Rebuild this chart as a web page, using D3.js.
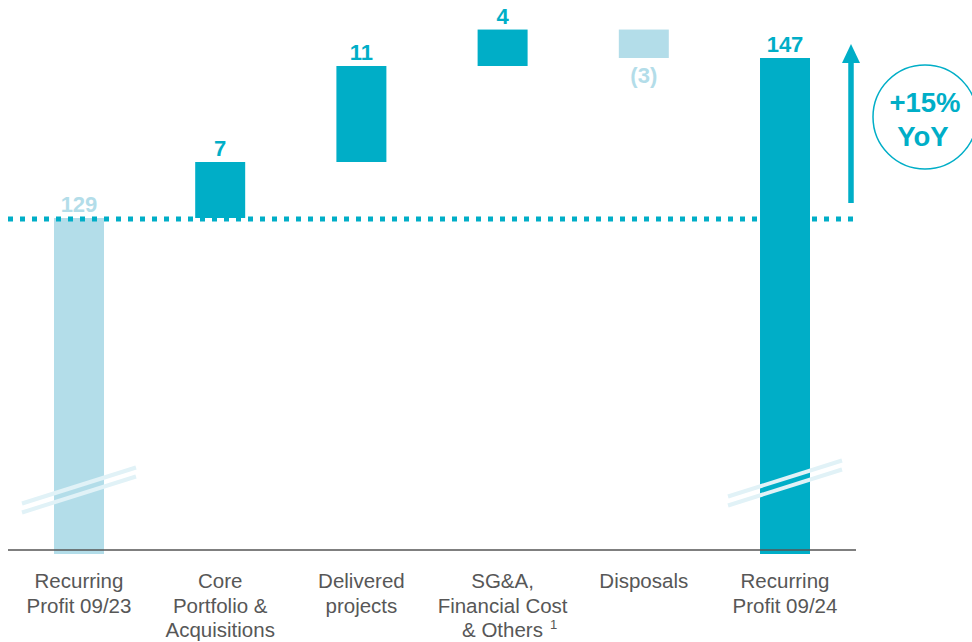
<!DOCTYPE html>
<html lang="en">
<head>
  <meta charset="UTF-8">
  <title>Recurring Profit bridge</title>
  <script src="https://d3js.org/d3.v7.min.js"></script>
  <style>
    body { margin: 0; background: #fff; font-family: "Liberation Sans", Arial, sans-serif; }
    .value-label { font-weight: bold; font-size: 22px; text-anchor: middle; }
    .cat-label { font-size: 20.5px; fill: #575757; text-anchor: middle; }
  </style>
</head>
<body>
  <div id="chart"></div>
  <script>
    // categories (line breaks with "|")
    const categories = [
      "Recurring|Profit 09/23",
      "Core|Portfolio &|Acquisitions",
      "Delivered|projects",
      "SG&A,|Financial Cost|& Others",
      "Disposals",
      "Recurring|Profit 09/24"
    ];
    // step values: first and last are totals, the rest are changes
    const values = [129, 6.3, 10.8, 4.1, -3.2, 147];
    const kinds = ["total", "up", "up", "up", "down", "total"];
    const valueLabels = ["129", "7", "11", "4", "(3)", "147"];
    const yoyText = ["+15%", "YoY"];

    const teal = "#00aec7";
    const light = "#b3dde9";

    const W = 972, H = 642;
    const baseY = 550;

    const svg = d3.select("#chart").append("svg")
      .attr("width", W).attr("height", H);

    // build waterfall steps
    let running = 0;
    const steps = values.map((v, i) => {
      let lo, hi;
      if (kinds[i] === "total") { lo = null; hi = v; running = v; }
      else { const start = running; running += v; lo = Math.min(start, running); hi = Math.max(start, running); }
      return { cat: categories[i], v, kind: kinds[i], lo, hi, label: valueLabels[i], i };
    });

    const x = d3.scaleBand()
      .domain(categories)
      .range([54, 810])
      .paddingInner(0.646)
      .paddingOuter(0);

    // broken axis: the visible part starts around 91.6
    const y = d3.scaleLinear()
      .domain([91.65, 147])
      .range([baseY, 58]);

    const colorOf = d => d.kind === "total" ? (d.i === 0 ? light : teal) : (d.kind === "down" ? light : teal);
    const mid = d => x(d.cat) + x.bandwidth() / 2;

    // bars
    svg.selectAll(".bar")
      .data(steps)
      .enter().append("rect")
      .attr("class", "bar")
      .attr("x", d => x(d.cat))
      .attr("width", x.bandwidth())
      .attr("y", d => y(d.hi))
      .attr("height", d => (d.lo === null ? baseY + 4 : y(d.lo)) - y(d.hi))
      .attr("fill", colorOf);

    // axis baseline
    svg.append("line")
      .attr("x1", 8).attr("x2", 856)
      .attr("y1", baseY).attr("y2", baseY)
      .attr("stroke", "#555").attr("stroke-width", 1.5);

    // dotted reference line at the starting total
    svg.append("line")
      .attr("x1", 8).attr("x2", 856)
      .attr("y1", y(values[0]) + 1).attr("y2", y(values[0]) + 1)
      .attr("stroke", teal).attr("stroke-width", 5)
      .attr("stroke-dasharray", "5 7");

    // axis break marks
    [[0, 490], [5, 483]].forEach(([i, cy]) => {
      const cx = mid(steps[i]);
      [-4.5, 4.5].forEach(off => {
        svg.append("line")
          .attr("x1", cx - 57).attr("y1", cy + 18 + off)
          .attr("x2", cx + 57).attr("y2", cy - 18 + off)
          .attr("stroke", "#e1f2f7").attr("stroke-width", 4);
      });
    });

    // value labels
    svg.selectAll(".value-label")
      .data(steps)
      .enter().append("text")
      .attr("class", "value-label")
      .attr("x", mid)
      .attr("y", d => d.kind === "down" ? y(d.lo) + 25 : y(d.hi) - 6)
      .attr("fill", colorOf)
      .text(d => d.label);

    // category labels
    svg.selectAll(".cat-label")
      .data(steps)
      .enter().append("text")
      .attr("class", "cat-label")
      .attr("x", mid)
      .attr("y", 588)
      .each(function(d) {
        const lines = d.cat.split("|");
        const t = d3.select(this);
        lines.forEach((ln, k) => {
          const ts = t.append("tspan")
            .attr("x", mid(d))
            .attr("dy", k === 0 ? 0 : 24.5)
            .text(ln);
          if (d.i === 3 && k === lines.length - 1) {
            // footnote marker, keep "& Others" itself centred
            ts.attr("dx", 7);
            t.append("tspan").attr("dx", 7).attr("dy", -8)
              .style("font-size", "13px").text("1");
          }
        });
      });

    // growth arrow
    const ax = 851;
    svg.append("line")
      .attr("x1", ax).attr("x2", ax)
      .attr("y1", 203).attr("y2", 60)
      .attr("stroke", teal).attr("stroke-width", 5.5);
    svg.append("path")
      .attr("d", `M${ax - 9},63 L${ax},44 L${ax + 9},63 Z`)
      .attr("fill", teal);

    // YoY bubble
    svg.append("circle")
      .attr("cx", 925).attr("cy", 117).attr("r", 52)
      .attr("fill", "#fff").attr("stroke", teal).attr("stroke-width", 1.5);
    svg.append("text")
      .attr("x", 925).attr("y", 112)
      .attr("text-anchor", "middle")
      .attr("fill", teal)
      .style("font-weight", "bold").style("font-size", "27.5px")
      .text(yoyText[0]);
    svg.append("text")
      .attr("x", 923).attr("y", 146)
      .attr("text-anchor", "middle")
      .attr("fill", teal)
      .style("font-weight", "bold").style("font-size", "27.5px")
      .text(yoyText[1]);
  </script>
</body>
</html>
